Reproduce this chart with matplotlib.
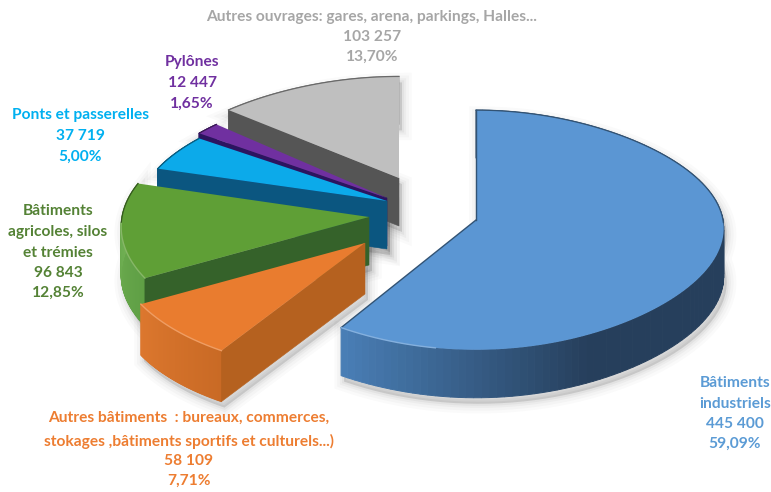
import numpy as np
import matplotlib
matplotlib.use("Agg")
import matplotlib.pyplot as plt
from matplotlib.colors import to_rgb

# ---- data ----
names = ["Bâtiments industriels", "Autres bâtiments", "Bâtiments agricoles, silos et trémies",
         "Ponts et passerelles", "Pylônes", "Autres ouvrages"]
values = [445400, 58109, 96843, 37719, 12447, 103257]
percents = [59.09, 7.71, 12.85, 5.00, 1.65, 13.70]

# ---- styles / layout ----
top_cols = ["#5b96d3", "#e97c2f", "#5f9f36", "#0caaea", "#7030a0", "#bfbfbf"]
cut_cols = ["#2f5a88", "#b5611f", "#35622a", "#0b5680", "#2c1460", "#555555"]
side_a = ["#4a80b8", "#dc772e", "#74b356", "#0b5680", "#2c1460", "#9a9a9a"]   # wall colour, first shade
side_b = ["#263f5c", "#c96a25", "#5f9f45", "#0b5680", "#2c1460", "#777777"]   # wall colour, last shade
apex_x = [476, 365, 369, 387, 387, 399]
apex_y = [220, 243, 217, 201, 198, 178]
back_r = [119, 119, 119, 115, 119, 110]
warp = [0.085, 0.0, 0.0, 0.095, 0.095, 0.095]
depth = [48, 51, 48, 48, 48, 48]
txt_cols = ["#5b9bd5", "#ed7d31", "#548235", "#00b0f0", "#7030a0", "#a6a6a6"]
R, K = 247, 0.083

labels = [
    (["Bâtiments", "industriels", "445 400", "59,09%"], 735, [383, 404, 424, 444]),
    (["Autres bâtiments  : bureaux, commerces,", "stokages ,bâtiments sportifs et culturels...)",
      "58 109", "7,71%"], 189, [418, 441, 461, 481]),
    (["Bâtiments", "agricoles, silos", "et trémies", "96 843", "12,85%"], 58, [211, 232, 253, 273, 293]),
    (["Ponts et passerelles", "37 719", "5,00%"], 80, [115, 136, 157]),
    (["Pylônes", "12 447", "1,65%"], 192, [62, 83, 104]),
    (["Autres ouvrages: gares, arena, parkings, Halles...", "103 257", "13,70%"], 372, [17, 37, 57]),
]

fig = plt.figure(figsize=(7.71, 4.92), dpi=100)
ax = fig.add_axes([0, 0, 1, 1])
ax.set_xlim(0, 771)
ax.set_ylim(492, 0)
ax.axis("off")


def project(i, deg):
    a = np.radians(deg)
    u, v = np.sin(a), np.cos(a)
    s = 1 / (1 + K * v)
    return apex_x[i] + R * u * (1 - warp[i] * v ** 2) * s, apex_y[i] - back_r[i] * v * s


edges = np.concatenate([[0], np.cumsum(percents)]) * 3.6
edges[-1] = 360

# soft shadows under the slices (all first)
for i in range(len(values)):
    th = np.linspace(edges[i], edges[i + 1], 80)
    x, y = project(i, th)
    d = depth[i]
    px = np.r_[apex_x[i], x, x[::-1], apex_x[i]]
    py = np.r_[apex_y[i], y, y[::-1] + d, apex_y[i] + d]
    for lw, alpha in [(14, 0.02), (10, 0.025), (6, 0.03), (3, 0.04)]:
        ax.fill(px + 3, py + 6, facecolor="#000000", edgecolor="#000000", lw=lw, alpha=alpha, zorder=1)

z = 2
# back slices first, so that each later slice covers the walls behind it
for i in reversed(range(len(values))):
    th = np.linspace(edges[i], edges[i + 1], 120)
    x, y = project(i, th)
    d = depth[i]
    ax_, ay_ = apex_x[i], apex_y[i]
    # outer curved wall, shaded along the arc
    ca, cb = np.array(to_rgb(side_a[i])), np.array(to_rgb(side_b[i]))
    for j in range(len(th) - 1):
        if i == 0:
            t = np.clip((edges[1] - th[j]) / 60, 0, 1)
        else:
            t = 1 - j / (len(th) - 2)
        c = ca + (cb - ca) * t
        ax.fill([x[j], x[j + 1], x[j + 1], x[j]], [y[j], y[j + 1], y[j + 1] + d, y[j] + d],
                color=c, lw=0.7, zorder=z)
    # the visible radial cut wall, in front of the curved wall
    ax.fill([ax_, x[0], x[0], ax_], [ay_, y[0], y[0] + d, ay_ + d],
            color=cut_cols[i], lw=0.4, zorder=z)
    # top face
    px = np.r_[ax_, x]
    py = np.r_[ay_, y]
    ax.fill(px, py, facecolor=top_cols[i], edgecolor="none", zorder=z + 1)
    # dark rim on the back edge, light bevel on the front edge
    rim = np.array(to_rgb(top_cols[i])) * 0.55
    back = np.cos(np.radians(th)) > -0.05
    ax.plot(x[back], y[back], color=rim, lw=0.9, zorder=z + 2)
    if i == 0:
        ax.plot([ax_, x[0]], [ay_, y[0]], color=rim, lw=1.0, zorder=z + 2)
        ax.plot([ax_, x[-1]], [ay_, y[-1]], color=rim, lw=1.0, zorder=z + 2)
    front = np.cos(np.radians(th)) <= -0.05
    if front.any():
        keep = x[front] < ax_ - 40
        light = np.array(to_rgb(top_cols[i])) * 0.75 + 0.25
        ax.plot(x[front][keep], y[front][keep], color=light, lw=1.0, zorder=z + 2)
    z += 3

for i, (lines, cx, ys) in enumerate(labels):
    for line, yy in zip(lines, ys):
        ax.text(cx, yy, line, color=txt_cols[i], ha="center", va="center",
                family="Lato", weight="bold", fontsize=11.2, zorder=100)

fig.savefig("out.png", dpi=100)
